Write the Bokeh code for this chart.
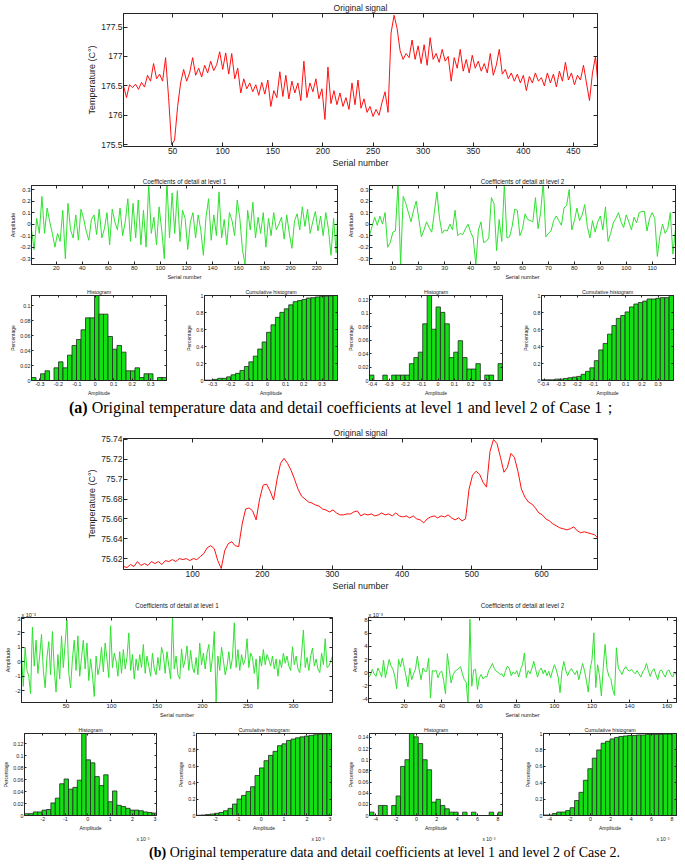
import numpy as np
from bokeh.plotting import figure
from bokeh.models import (Range1d, FixedTicker, LinearAxis, CustomJSTickFormatter,
                          Title, Div)
from bokeh.layouts import column, row
from bokeh.embed import file_html
from bokeh.resources import INLINE

# ---------------- DATA ----------------
# Case 1 original signal, sampled every 3rd serial number (+ last sample 474)
sig_a_temp = [
    176.50, 176.30, 176.52, 176.47, 176.53, 176.44, 176.56, 176.48, 176.68, 176.58,
    176.88, 176.62, 176.70, 176.58, 176.98, 176.30, 175.50, 175.58, 176.15, 176.55,
    176.78, 176.58, 176.72, 176.98, 176.68, 176.80, 176.65, 176.85, 176.72, 176.92,
    176.76, 176.86, 177.08, 176.78, 177.06, 176.70, 177.05, 176.62, 176.80, 176.38,
    176.62, 176.45, 176.55, 176.40, 176.52, 176.34, 176.56, 176.36, 176.60, 176.15,
    176.42, 176.30, 176.74, 176.32, 176.68, 176.28, 176.58, 176.38, 176.55, 176.25,
    176.92, 176.30, 176.55, 176.40, 176.62, 176.28, 176.45, 175.93, 176.82, 176.20,
    176.42, 176.18, 176.38, 176.15, 176.30, 176.10, 176.55, 176.18, 176.60, 176.12,
    176.28, 176.05, 176.15, 175.98, 176.10, 176.00, 176.22, 176.40, 176.05, 177.40,
    177.70, 177.48, 177.10, 176.95, 177.05, 176.98, 177.28, 176.95, 177.18, 176.88,
    177.20, 176.85, 177.32, 176.95, 177.05, 176.90, 177.12, 176.92, 177.00, 176.58,
    176.98, 176.80, 177.12, 176.75, 176.95, 176.72, 177.02, 176.80, 176.92, 176.75,
    176.88, 176.72, 177.05, 176.68, 176.85, 177.12, 176.70, 176.78, 176.62, 176.72,
    176.58, 176.70, 176.55, 176.68, 176.42, 176.66, 176.55, 176.72, 176.58, 176.64,
    176.50, 176.72, 176.55, 176.70, 176.48, 176.75, 176.58, 176.90, 176.60, 176.72,
    176.52, 176.68, 176.60, 176.85, 176.55, 176.25, 176.72, 177.00, 176.62,
]
sig_a_last_serial = 474

# Case 1 detail coefficients level 1 (every 2nd serial number + last 236)
det_a1 = [
    -0.05, -0.22, 0.05, -0.08, 0.24, -0.08, 0.14, 0.02, -0.08, -0.20,
    -0.08, -0.15, 0.12, -0.30, 0.18, -0.05, -0.12, 0.08, -0.14, 0.13,
    0.05, -0.06, -0.14, 0.04, 0.08, -0.09, 0.13, -0.12, -0.04, 0.10,
    -0.18, 0.13, 0.02, -0.05, 0.14, -0.10, 0.02, 0.22, -0.15, 0.18,
    -0.12, 0.21, -0.18, 0.12, -0.20, 0.35, -0.08, 0.06, -0.18, 0.15,
    -0.05, -0.30, 0.38, -0.12, 0.27, -0.08, 0.29, -0.15, 0.12, 0.05,
    -0.22, 0.02, 0.10, -0.12, 0.08, -0.05, -0.27, 0.06, 0.22, -0.14,
    0.08, -0.10, 0.28, -0.12, 0.04, -0.18, 0.10, 0.03, -0.10, 0.21,
    0.05, -0.22, -0.35, 0.12, -0.05, 0.19, -0.12, 0.06, -0.08, 0.10,
    -0.20, 0.05, -0.10, 0.10, -0.05, 0.00, 0.06, -0.13, 0.08, -0.08,
    -0.21, 0.03, 0.09, -0.05, 0.15, -0.02, 0.13, -0.08, 0.02, 0.11,
    -0.06, 0.07, -0.10, 0.10, -0.04, -0.27, 0.05, -0.25, 0.06,
]
det_a1_last_serial = 236

# Case 1 detail coefficients level 2 (serial 1..119)
det_a2 = [
    -0.10, -0.02, 0.06, -0.01, 0.07, 0.00, 0.10, -0.20, -0.16, -0.07,
    -0.06, 0.36, -0.35, 0.24, 0.18, 0.10, 0.02, 0.12, 0.20, 0.05,
    -0.11, -0.05, 0.02, -0.03, -0.07, 0.10, 0.28, 0.05, -0.08, -0.05,
    -0.06, 0.00, -0.05, 0.12, -0.10, -0.08, -0.09, -0.04, 0.00, -0.07,
    -0.12, -0.35, -0.05, 0.02, -0.16, -0.15, -0.12, 0.23, 0.18, -0.23,
    0.04, -0.15, 0.35, -0.12, -0.11, -0.02, 0.13, 0.12, -0.10, -0.04,
    0.09, 0.04, 0.03, 0.02, 0.23, -0.04, 0.10, 0.37, -0.11, -0.08,
    -0.06, 0.03, 0.07, 0.03, -0.01, 0.14, 0.16, 0.30, -0.05, 0.03,
    0.14, 0.03, 0.08, 0.17, -0.02, -0.12, 0.03, -0.07, 0.02, 0.07,
    -0.05, 0.15, -0.15, -0.08, 0.01, 0.05, 0.10, 0.02, -0.03, 0.08,
    0.02, -0.05, 0.06, 0.01, 0.10, 0.11, 0.11, -0.06, 0.05, 0.10,
    0.05, -0.28, -0.10, 0.00, -0.08, -0.04, 0.10, -0.26, -0.04,
]

# Case 1 histograms (30 bins) of level-1 and level-2 coefficients
hist_a1 = [0.004, 0.0, 0.009, 0.013, 0.0, 0.017, 0.025, 0.017, 0.034, 0.047,
           0.055, 0.068, 0.084, 0.084, 0.114, 0.089, 0.089, 0.059, 0.042, 0.047,
           0.038, 0.013, 0.013, 0.017, 0.004, 0.009, 0.009, 0.0, 0.004, 0.004]
hist_a1_span = (-0.345, 0.385)
hist_a2 = [0.008, 0.0, 0.0, 0.008, 0.0, 0.008, 0.008, 0.008, 0.008, 0.025,
           0.034, 0.042, 0.084, 0.126, 0.076, 0.109, 0.101, 0.084, 0.034, 0.042,
           0.059, 0.034, 0.017, 0.017, 0.025, 0.0, 0.008, 0.008, 0.0, 0.025]
hist_a2_span = (-0.42, 0.395)

# Case 2 original signal, every 5th serial number (+ last sample 680)
sig_b_temp = [
    75.612, 75.611, 75.614, 75.612, 75.617, 75.613, 75.615, 75.613, 75.617, 75.615,
    75.617, 75.614, 75.618, 75.617, 75.619, 75.617, 75.620, 75.619, 75.620, 75.618,
    75.620, 75.619, 75.622, 75.625, 75.631, 75.633, 75.630, 75.618, 75.610, 75.628,
    75.635, 75.637, 75.633, 75.632, 75.655, 75.670, 75.671, 75.668, 75.659, 75.680,
    75.694, 75.695, 75.688, 75.679, 75.700, 75.716, 75.721, 75.716, 75.709, 75.700,
    75.690, 75.683, 75.680, 75.677, 75.676, 75.674, 75.673, 75.670, 75.669, 75.667,
    75.669, 75.666, 75.664, 75.664, 75.665, 75.665, 75.667, 75.668, 75.663, 75.665,
    75.664, 75.665, 75.663, 75.664, 75.666, 75.664, 75.665, 75.663, 75.666, 75.663,
    75.662, 75.663, 75.661, 75.663, 75.660, 75.659, 75.656, 75.660, 75.662, 75.663,
    75.661, 75.663, 75.662, 75.664, 75.661, 75.659, 75.661, 75.658, 75.660, 75.690,
    75.704, 75.708, 75.705, 75.697, 75.692, 75.728, 75.740, 75.736, 75.722, 75.707,
    75.712, 75.726, 75.722, 75.708, 75.690, 75.682, 75.677, 75.675, 75.671, 75.666,
    75.664, 75.660, 75.658, 75.655, 75.653, 75.651, 75.650, 75.649, 75.650, 75.652,
    75.648, 75.646, 75.647, 75.646, 75.645, 75.644, 75.641,
]
sig_b_last_serial = 680

# Case 2 detail level 1 (x 10^-3), every 2nd serial number
det_b1_e3 = [
    0.4, -1.7, 1.0, -0.6, -1.0, -2.2, 2.4, -0.3, 1.5, -0.8,
    0.4, 1.9, -0.6, -1.8, 0.3, 1.4, -0.9, 2.1, -0.5, -2.1,
    0.5, -1.2, 1.8, -0.4, 1.3, 2.9, -0.8, -1.8, 0.2, 1.5,
    -0.6, 1.8, -1.0, 0.3, 1.5, -0.5, 1.3, -1.3, 0.2, -0.9,
    -2.4, 0.4, -0.9, -0.3, 1.0, -0.7, 1.3, 0.2, -1.1, 2.5,
    -0.4, 0.6, 0.05, -1.0, 0.7, -0.8, 0.85, -0.5, 0.3, 2.0,
    -0.6, 0.5, -1.2, 0.2, -0.6, 0.5, -0.4, 1.2, -0.8, 0.4,
    -0.3, -1.0, 0.6, -0.5, -0.9, 0.3, -0.6, 1.0, 0.5, -0.8,
    0.7, -0.3, -1.2, 3.05, -0.5, 0.4, -0.9, -1.2, 0.9, -0.4,
    0.15, 1.1, -0.6, 0.8, -0.4, -0.75, 0.3, -0.9, 1.3, -0.2,
    0.6, -0.5, 0.6, 1.2, -0.7, 0.3, 2.1, -2.8, 0.4, -0.6,
    1.0, 0.1, -0.9, -0.3, 0.7, -0.5, 0.3, 2.7, -0.4, 0.85,
    -0.6, 0.5, -0.2, 0.15, 1.6, -0.4, 0.6, 0.3, -0.8, 0.2,
    -1.9, 0.4, -0.3, 0.85, -0.2, 0.5, 0.15, -0.3, 0.4, -0.5,
    0.2, -1.0, 0.15, -0.4, 0.6, -0.1, 0.4, -0.3, -0.6, 1.05,
    -0.2, 0.4, -0.5, -0.75, 0.6, 2.2, -0.4, 0.3, -0.6, 0.4,
    0.95, -0.3, 0.2, -0.5, -0.75, 0.6, -0.2, 1.6, -0.4, -0.3,
    0.05, 0.4,
]

# Case 2 detail level 2 (x 10^-3), serial 1..165
det_b2_e3 = [
    -0.8, -0.4, 0.5, -0.2, -0.6, 0.7, 0.1, -0.7, 1.9, -0.8,
    0.6, 2.0, 1.0, 0.5, -0.6, -2.5, 2.0, 0.9, 2.2, 0.8,
    -0.6, -2.2, 0.7, -1.1, -0.2, 0.5, 2.5, 0.4, -1.1, 0.7,
    0.2, 0.2, 2.2, -3.9, 0.3, 0.2, 0.35, -0.8, 0.0, 0.2,
    -1.2, -3.3, 2.9, 0.5, -1.6, -0.4, 0.2, 0.4, 0.6, 0.9,
    -0.2, -1.1, -1.5, -4.9, 8.2, -2.1, 0.4, 0.5, -2.6, -0.8,
    -0.3, -1.0, -0.6, -0.7, 0.3, 0.8, 1.4, 0.6, 0.2, 0.05,
    -0.3, -0.2, -0.7, 0.3, 1.0, 0.6, -0.5, 0.1, -0.2, 0.3,
    -0.7, 0.5, 1.2, 3.0, -0.8, 0.3, -0.2, 0.6, 1.7, 0.5,
    -0.7, 0.3, 0.7, -0.2, 0.4, -0.5, 0.2, -0.8, 0.3, 1.2,
    0.4, -0.7, -3.1, 0.2, 1.7, 0.4, -0.5, 0.2, 0.6, 0.1,
    -0.3, 0.3, -1.1, 0.2, 1.4, 0.3, -1.2, -3.0, 0.5, 2.0,
    6.1, -2.3, 1.2, -0.5, -3.6, 0.8, 4.3, 0.6, -0.6, -0.9,
    -2.6, -3.5, 3.8, 0.7, 0.2, -0.3, 0.5, 0.9, 0.4, 0.2,
    0.5, 0.1, -0.2, 0.3, -0.2, -0.7, 0.1, 0.5, 1.4, 0.3,
    -0.6, 0.2, 0.6, -0.3, -1.1, 0.2, 0.4, -0.2, -0.7, 0.2,
    0.4, -0.3, -0.7, 0.1, -0.4,
]

hist_b1 = [0.003, 0.003, 0.006, 0.006, 0.009, 0.010, 0.021, 0.029, 0.053, 0.061,
           0.044, 0.047, 0.059, 0.137, 0.093, 0.088, 0.065, 0.050, 0.068, 0.023,
           0.041, 0.017, 0.015, 0.012, 0.009, 0.009, 0.008, 0.006, 0.005, 0.004]
hist_b1_span = (-2.82, 3.07)
hist_b2 = [0.006, 0.0, 0.018, 0.018, 0.0, 0.018, 0.035, 0.088, 0.100, 0.147,
           0.141, 0.129, 0.100, 0.082, 0.024, 0.029, 0.018, 0.012, 0.006, 0.006,
           0.0, 0.006, 0.0, 0.006, 0.0, 0.0, 0.0, 0.006, 0.0, 0.006]
hist_b2_span = (-4.6, 8.45)

# tick values
ticks_sig_a_x = [50, 100, 150, 200, 250, 300, 350, 400, 450]
ticks_sig_a_y = [175.5, 176, 176.5, 177, 177.5]
ticks_det_a1_x = [20, 40, 60, 80, 100, 120, 140, 160, 180, 200, 220]
ticks_det_a2_x = [10, 20, 30, 40, 50, 60, 70, 80, 90, 100, 110]
ticks_det_a_y = [-0.3, -0.2, -0.1, 0, 0.1, 0.2, 0.3]
ticks_hist_a1_x = [-0.3, -0.2, -0.1, 0, 0.1, 0.2, 0.3]
ticks_hist_a2_x = [-0.4, -0.3, -0.2, -0.1, 0, 0.1, 0.2, 0.3]
ticks_hist_a1_y = [0, 0.02, 0.04, 0.06, 0.08, 0.1]
ticks_hist_a2_y = [0, 0.02, 0.04, 0.06, 0.08, 0.1, 0.12]
ticks_cum_y = [0, 0.2, 0.4, 0.6, 0.8, 1]
ticks_sig_b_x = [100, 200, 300, 400, 500, 600]
ticks_sig_b_y = [75.62, 75.64, 75.66, 75.68, 75.7, 75.72, 75.74]
ticks_det_b1_x = [50, 100, 150, 200, 250, 300]
ticks_det_b1_y = [-2, -1, 0, 1, 2, 3]
ticks_det_b2_x = [20, 40, 60, 80, 100, 120, 140, 160]
ticks_det_b2_y = [-4, -2, 0, 2, 4, 6, 8]
ticks_hist_b1_x = [-2, -1, 0, 1, 2, 3]
ticks_hist_b2_x = [-4, -2, 0, 2, 4, 6, 8]
ticks_hist_b1_y = [0, 0.02, 0.04, 0.06, 0.08, 0.1, 0.12]
ticks_hist_b2_y = [0, 0.02, 0.04, 0.06, 0.08, 0.1, 0.12, 0.14]

caption_a_tag = "(a)"
caption_a_text = "Original temperature data and detail coefficients at level 1 and level 2 of Case 1\uff1b"
caption_b_tag = "(b)"
caption_b_text = "Original temperature data and detail coefficients at level 1 and level 2 of Case 2."
multiplier_text = "x 10\u207b\u00b3"

# ---------------- STYLE ----------------
FONT = "Liberation Sans"
RED = "#ff1010"
GREEN_LINE = "#30e030"
GREEN_BAR = "#12e012"
EDGE = "#262626"
FMT = "return String(Math.round(tick*1e6)/1e6);"

BIG = dict(tick="8.5px", title="8.5px", label="9px", ticklen=4)
MID = dict(tick="6px", title="6.3px", label="5.5px", ticklen=3)
SMALL = dict(tick="5.3px", title="5.3px", label="5px", ticklen=2)


def set_standoff(t, v):
    if "standoff" in t.properties():
        t.standoff = v


def make_axes(width, height, borders, xr, yr, xticks, yticks, title, xlabel, ylabel, st):
    bl, br, bt, bb = borders
    p = figure(width=width, height=height, output_backend="svg", toolbar_location=None,
               x_range=Range1d(*xr), y_range=Range1d(*yr),
               min_border_left=bl, min_border_right=br,
               min_border_top=bt, min_border_bottom=bb)
    p.title.text = title
    p.title.align = "center"
    p.title.text_font = FONT
    p.title.text_font_size = st["title"]
    p.title.text_font_style = "normal"
    p.title.text_color = "#222222"
    set_standoff(p.title, 1)
    p.title.offset = 0
    p.grid.visible = False
    p.outline_line_color = EDGE
    p.outline_line_width = 1
    p.background_fill_color = "white"
    p.border_fill_color = "white"
    xa, ya = p.xaxis[0], p.yaxis[0]
    xa.ticker = FixedTicker(ticks=xticks)
    ya.ticker = FixedTicker(ticks=yticks)
    xa.axis_label = xlabel
    ya.axis_label = ylabel
    for ax in (xa, ya):
        ax.formatter = CustomJSTickFormatter(code=FMT)
        ax.major_tick_in = st["ticklen"]
        ax.major_tick_out = 0
        ax.minor_tick_line_color = None
        ax.major_tick_line_color = EDGE
        ax.axis_line_color = EDGE
        ax.major_label_text_font = FONT
        ax.major_label_text_font_size = st["tick"]
        ax.major_label_text_color = "#222222"
        ax.major_label_standoff = 1
        ax.axis_label_text_font = FONT
        ax.axis_label_text_font_size = st["label"]
        ax.axis_label_text_font_style = "normal"
        ax.axis_label_text_color = "#222222"
        ax.axis_label_standoff = 1
    # mirrored tick marks on the top and right edges (no labels)
    for loc, ticks in (("above", xticks), ("right", yticks)):
        m = LinearAxis(ticker=FixedTicker(ticks=ticks), major_tick_in=st["ticklen"],
                       major_tick_out=0, minor_tick_line_color=None,
                       major_tick_line_color=EDGE, axis_line_color=EDGE,
                       major_label_text_color=None, major_label_text_font_size="1px",
                       major_label_standoff=0)
        p.add_layout(m, loc)
    return p


def hist_fig(width, height, borders, span, vals, xticks, yticks, title, cumulative, st):
    lo, hi = span
    v = np.array(vals, dtype=float)
    if cumulative:
        v = np.cumsum(v) / v.sum()
        ytop = 1.0
    else:
        ytop = float(v.max())
    edges = np.linspace(lo, hi, len(vals) + 1)
    centers = (edges[:-1] + edges[1:]) / 2
    bw = edges[1] - edges[0]
    p = make_axes(width, height, borders, (lo, hi), (0, ytop), xticks, yticks,
                  title, "Amplitude", "Percentage", st)
    p.vbar(x=centers, top=v, bottom=0, width=bw, fill_color=GREEN_BAR,
           line_color=EDGE, line_width=0.8)
    return p


def add_multiplier(p, where, size):
    if where == "above":
        t = Title(text=multiplier_text, align="left", offset=0)
    else:
        t = Title(text=multiplier_text, align="right", offset=7)
    t.text_font = FONT
    t.text_font_size = size
    t.text_font_style = "normal"
    t.text_color = "#222222"
    set_standoff(t, 0)
    p.add_layout(t, where)


def caption_div(height, tag, text, size, pad_left, line_h, top_pad):
    html = ('<div style="font-family:\'Liberation Serif\',\'Times New Roman\',serif;'
            'font-size:%s;line-height:%dpx;padding-left:%dpx;padding-top:%dpx;'
            'white-space:nowrap;color:#000;margin:0">'
            '<b>%s</b> %s</div>') % (size, line_h, pad_left, top_pad, tag, text)
    return Div(text=html, width=685, height=height, margin=(0, 0, 0, 0))


# ---------------- CASE 1 ----------------
sig_a_x = [1 + 3 * k for k in range(len(sig_a_temp) - 1)] + [sig_a_last_serial]
p_a = make_axes(685, 170, (121, 88, 12, 24), (1, 474), (175.47, 177.73),
                ticks_sig_a_x, ticks_sig_a_y, "Original signal", "Serial number",
                "Temperature (C\u00b0)", BIG)
p_a.line(sig_a_x, sig_a_temp, line_color=RED, line_width=1)

det_a1_x = [1 + 2 * k for k in range(len(det_a1) - 1)] + [det_a1_last_serial]
p_a1 = make_axes(345, 112, (31, 8, 15, 15), (1, 236), (-0.35, 0.335),
                 ticks_det_a1_x, ticks_det_a_y, "Coefficients of detail at level 1",
                 "Serial number", "Amplitude", MID)
p_a1.line(det_a1_x, det_a1, line_color=GREEN_LINE, line_width=1)

det_a2_x = list(range(1, len(det_a2) + 1))
p_a2 = make_axes(340, 112, (22, 10, 15, 15), (1, 119), (-0.35, 0.335),
                 ticks_det_a2_x, ticks_det_a_y, "Coefficients of detail at level 2",
                 "Serial number", "Amplitude", MID)
p_a2.line(det_a2_x, det_a2, line_color=GREEN_LINE, line_width=1)

h_a1 = hist_fig(180, 116, (31, 14, 13, 16), hist_a1_span, hist_a1, ticks_hist_a1_x,
                ticks_hist_a1_y, "Histogram", False, SMALL)
c_a1 = hist_fig(165, 116, (24, 8, 13, 16), hist_a1_span, hist_a1, ticks_hist_a1_x,
                ticks_cum_y, "Cumulative histogram", True, SMALL)
h_a2 = hist_fig(175, 116, (22, 18, 13, 16), hist_a2_span, hist_a2, ticks_hist_a2_x,
                ticks_hist_a2_y, "Histogram", False, SMALL)
c_a2 = hist_fig(165, 116, (20, 12, 13, 16), hist_a2_span, hist_a2, ticks_hist_a2_x,
                ticks_cum_y, "Cumulative histogram", True, SMALL)

cap_a = caption_div(22, caption_a_tag, caption_a_text, "16px", 69, 20, 0)

# ---------------- CASE 2 ----------------
sig_b_x = [1 + 5 * k for k in range(len(sig_b_temp) - 1)] + [sig_b_last_serial]
p_b = make_axes(685, 173, (123, 88, 18, 22), (1, 680), (75.609, 75.741),
                ticks_sig_b_x, ticks_sig_b_y, "Original signal", "Serial number",
                "Temperature (C\u00b0)", BIG)
p_b.line(sig_b_x, sig_b_temp, line_color=RED, line_width=1)

det_b1_x = [1 + 2 * k for k in range(len(det_b1_e3))]
p_b1 = make_axes(345, 127, (21, 13, 24, 17), (1, 343), (-2.82, 3.07),
                 ticks_det_b1_x, ticks_det_b1_y, "Coefficients of detail at level 1",
                 "Serial number", "Amplitude", MID)
p_b1.line(det_b1_x, det_b1_e3, line_color=GREEN_LINE, line_width=1)
add_multiplier(p_b1, "above", "5.5px")

det_b2_x = list(range(1, len(det_b2_e3) + 1))
p_b2 = make_axes(340, 127, (23, 9, 24, 17), (1, 165), (-4.6, 8.45),
                 ticks_det_b2_x, ticks_det_b2_y, "Coefficients of detail at level 2",
                 "Serial number", "Amplitude", MID)
p_b2.line(det_b2_x, det_b2_e3, line_color=GREEN_LINE, line_width=1)
add_multiplier(p_b2, "above", "5.5px")

h_b1 = hist_fig(175, 121, (21, 19, 13, 21), hist_b1_span, hist_b1, ticks_hist_b1_x,
                ticks_hist_b1_y, "Histogram", False, SMALL)
c_b1 = hist_fig(170, 121, (17, 14, 13, 21), hist_b1_span, hist_b1, ticks_hist_b1_x,
                ticks_cum_y, "Cumulative histogram", True, SMALL)
h_b2 = hist_fig(177, 121, (23, 20, 13, 21), hist_b2_span, hist_b2, ticks_hist_b2_x,
                ticks_hist_b2_y, "Histogram", False, SMALL)
c_b2 = hist_fig(163, 121, (20, 9, 13, 21), hist_b2_span, hist_b2, ticks_hist_b2_x,
                ticks_cum_y, "Cumulative histogram", True, SMALL)
for hp in (h_b1, c_b1, h_b2, c_b2):
    add_multiplier(hp, "below", "5px")

cap_b = caption_div(24, caption_b_tag, caption_b_text, "14px", 149, 20, 2)

layout = column(
    p_a,
    row(p_a1, p_a2, spacing=0),
    row(h_a1, c_a1, h_a2, c_a2, spacing=0),
    cap_a,
    p_b,
    row(p_b1, p_b2, spacing=0),
    row(h_b1, c_b1, h_b2, c_b2, spacing=0),
    cap_b,
    spacing=0,
)

with open("out.html", "w") as f:
    f.write(file_html(layout, INLINE, "Wavelet detail coefficients"))
